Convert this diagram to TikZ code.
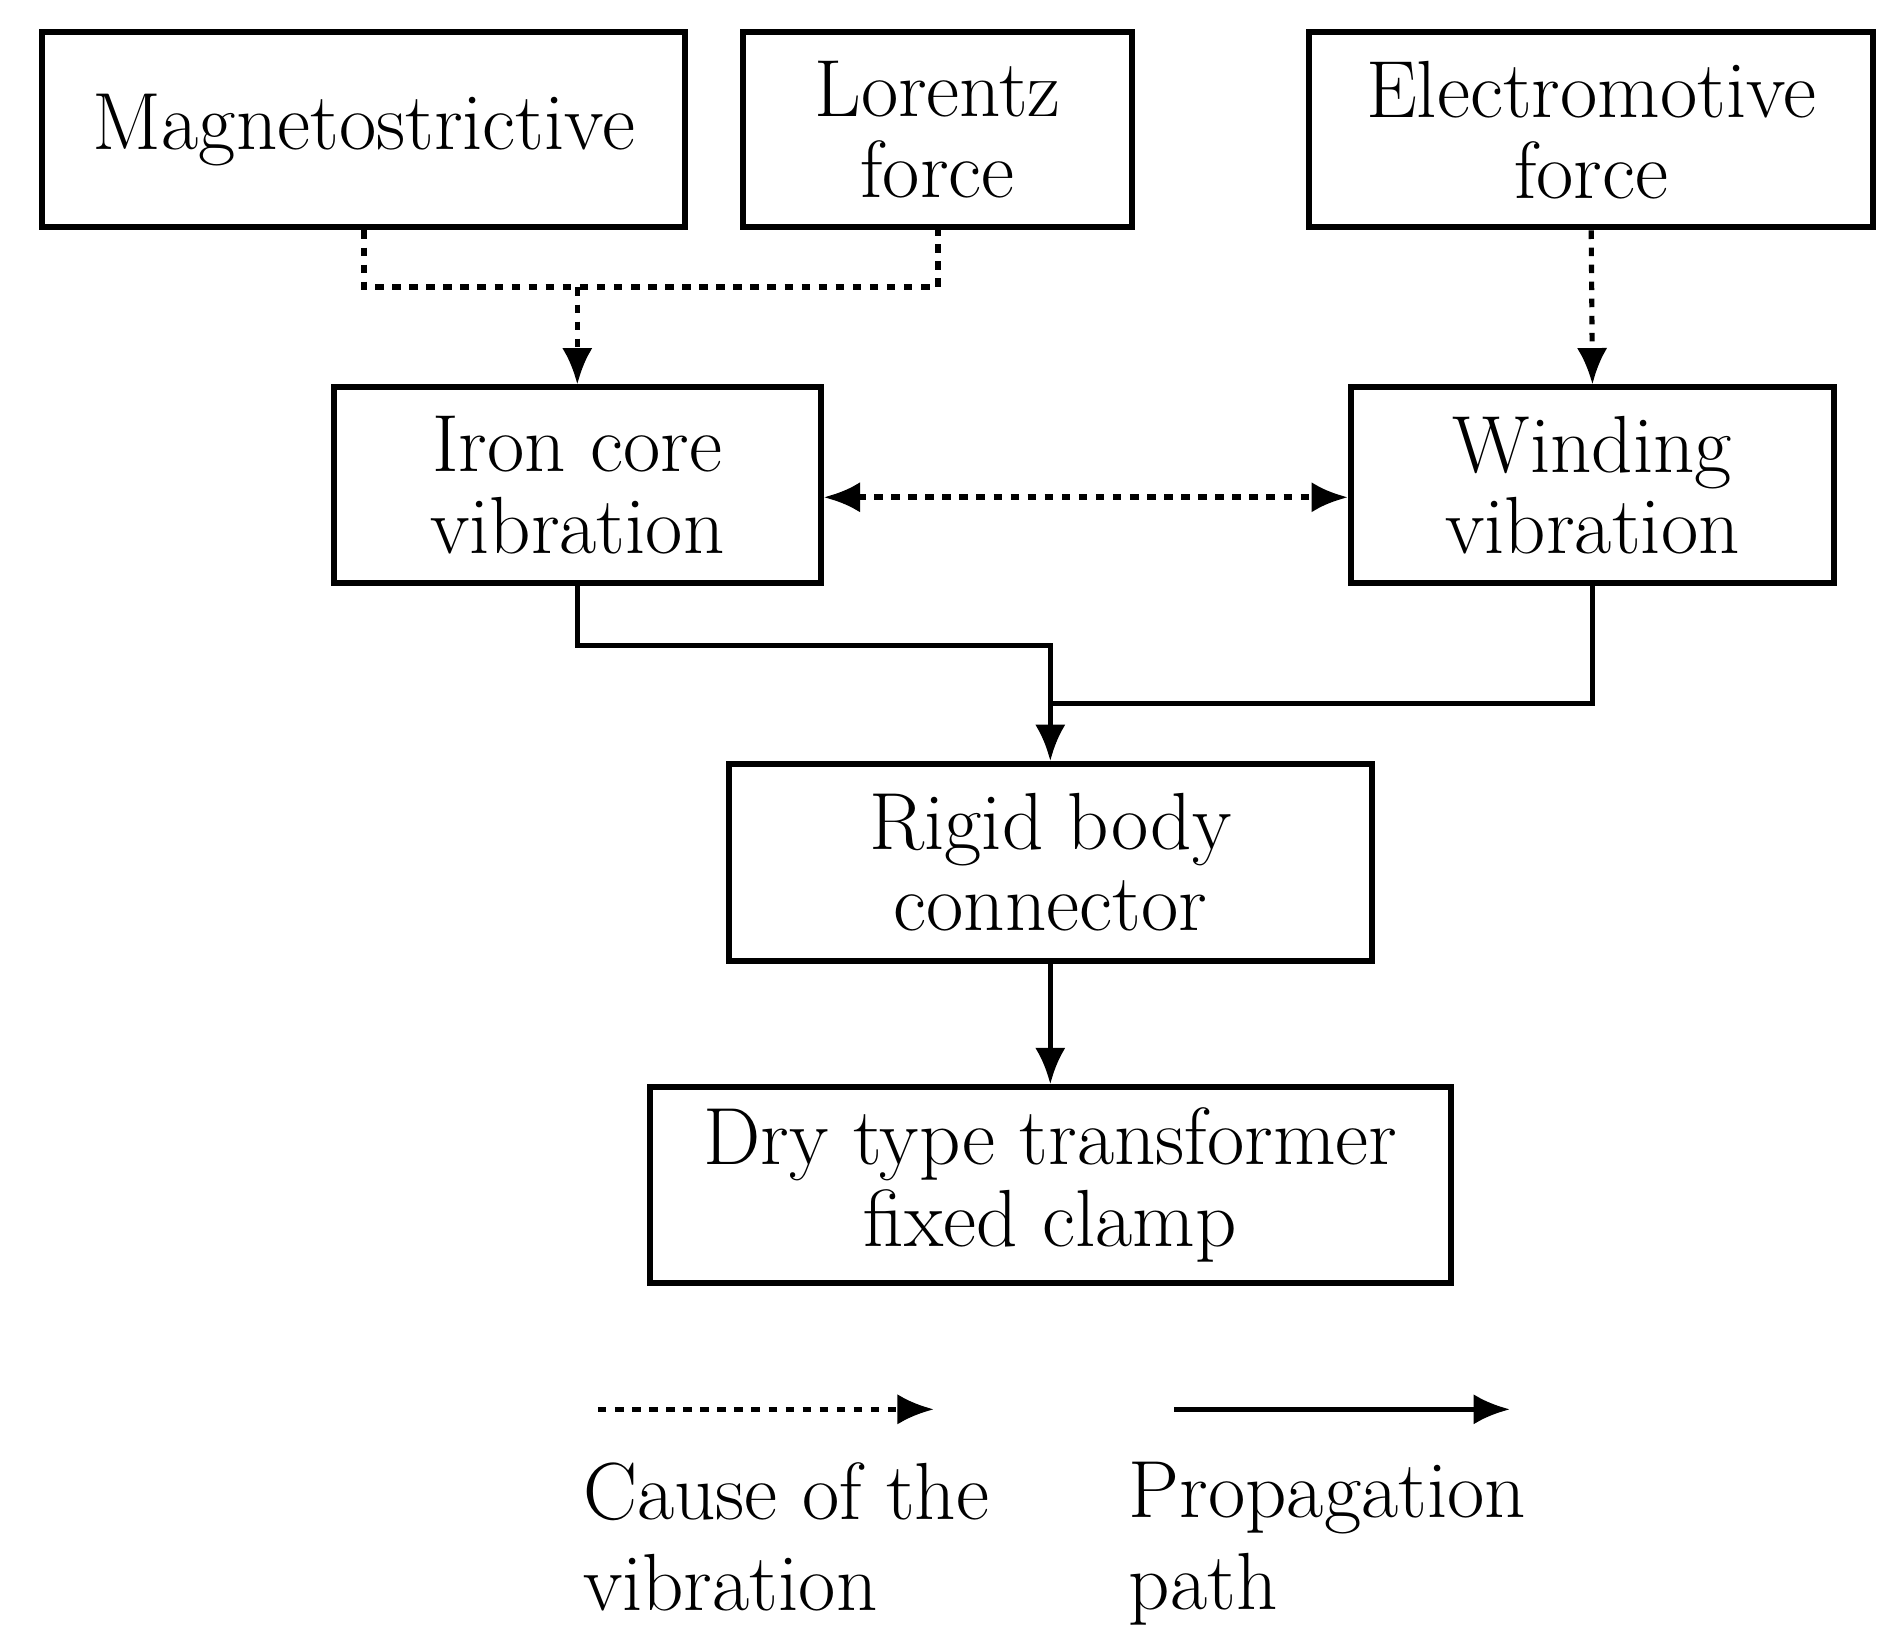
\documentclass[tikz,border=0pt]{standalone}
\usetikzlibrary{arrows.meta}
\begin{document}
\begin{tikzpicture}[x=0.01cm,y=-0.01cm,
    box/.style={draw,line width=1.4pt,inner sep=0pt,align=center,
      font=\fontsize{19}{19}\selectfont},
    arr/.style={-{Latex[length=0.3cm,width=0.25cm]},line width=1.2pt},
    dot/.style={dash pattern=on 2pt off 2pt,line width=1.4pt},
    lab/.style={align=left,anchor=north west,inner sep=0pt,
      font=\fontsize{19}{21.5}\selectfont}]
  \useasboundingbox (0,0) rectangle (1560,1356);
  \node[box,minimum width=5.3cm,minimum height=1.61cm] (mag) at (300,107) {Magnetostrictive};
  \node[box,minimum width=3.2cm,minimum height=1.61cm] (lor) at (773,107) {Lorentz\\force};
  \node[box,minimum width=4.65cm,minimum height=1.61cm] (emf) at (1312,107) {Electromotive\\force};
  \node[box,minimum width=4.01cm,minimum height=1.61cm] (iron) at (476,400) {Iron core\\vibration};
  \node[box,minimum width=3.98cm,minimum height=1.61cm] (wind) at (1313,400) {Winding\\vibration};
  \node[box,minimum width=5.3cm,minimum height=1.62cm] (rigid) at (866,711) {Rigid body\\connector};
  \node[box,minimum width=6.6cm,minimum height=1.61cm] (dry) at (866,977) {Dry type transformer\\fixed clamp};
  \coordinate (j1) at (476,237);
  \coordinate (j2) at (866,580);
  \draw[dot] (mag.south) |- (j1) -| (lor.south);
  \draw[dot,arr] (j1) -- (iron.north);
  \draw[dot,arr] (emf.south) -- (wind.north);
  \draw[dot,{Latex[length=0.3cm,width=0.25cm]}-{Latex[length=0.3cm,width=0.25cm]}] (iron.east |- 0,410) -- (wind.west |- 0,410);
  \draw[line width=1.2pt] (iron.south) |- (866,532) -- (j2);
  \draw[line width=1.2pt] (wind.south) |- (j2);
  \draw[arr] (j2) -- (rigid.north);
  \draw[arr] (rigid.south) -- (dry.north);
  % legend
  \coordinate (l1) at (493,1162);
  \coordinate (l2) at (770,1162);
  \coordinate (l3) at (968,1162);
  \coordinate (l4) at (1245,1162);
  \draw[dot,arr] (l1) -- (l2);
  \draw[arr] (l3) -- (l4);
  \node[lab] (t1) at (480,1205) {Cause of the\\vibration};
  \node[lab] (t2) at (930,1205) {Propagation\\path};
\end{tikzpicture}
\end{document}
